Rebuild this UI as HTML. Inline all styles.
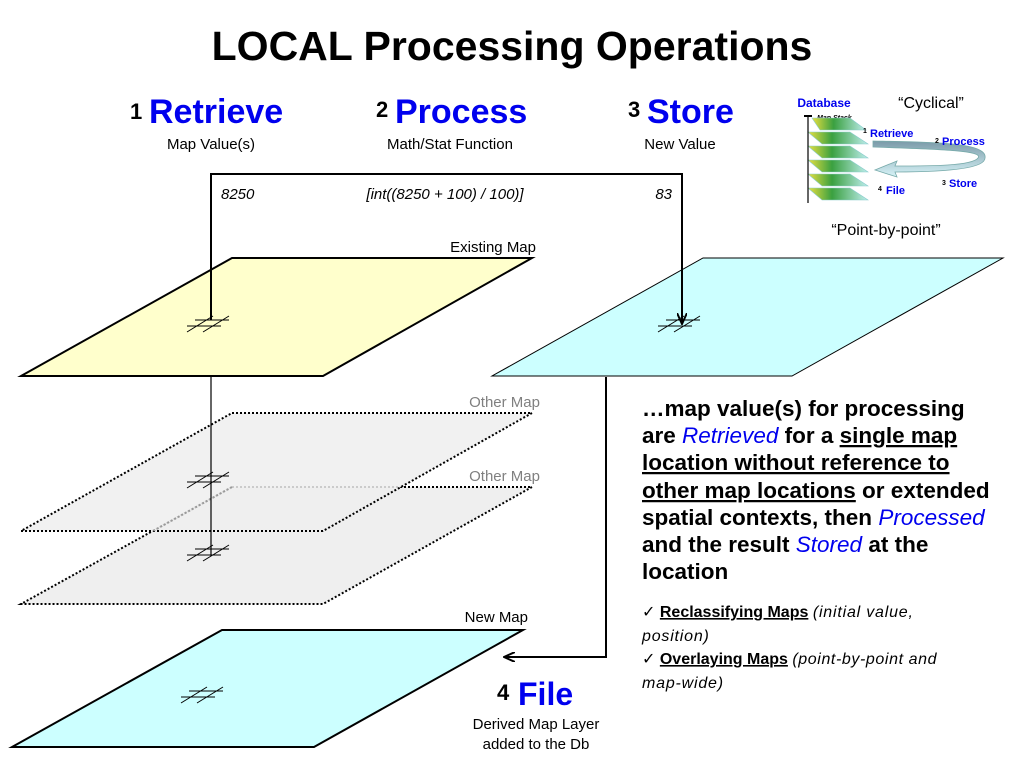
<!DOCTYPE html>
<html><head><meta charset="utf-8"><style>
html,body{margin:0;padding:0;background:#fff}
svg{display:block}
text{font-family:"Liberation Sans",Arial,sans-serif}
</style></head><body>
<svg width="1024" height="768" viewBox="0 0 1024 768" xmlns="http://www.w3.org/2000/svg">
<defs>
<marker id="ah" markerWidth="12" markerHeight="10" refX="11" refY="5" orient="auto" markerUnits="userSpaceOnUse">
<path d="M0,0 L11,5 L0,10" fill="none" stroke="#000" stroke-width="2"/></marker>
<linearGradient id="gm" x1="0" x2="1"><stop offset="0" stop-color="#e8e040"/><stop offset="0.4" stop-color="#3aa040"/><stop offset="1" stop-color="#bfeeee"/></linearGradient>
<linearGradient id="ar" x1="0" x2="0" y1="0" y2="1"><stop offset="0" stop-color="#7a9aa8"/><stop offset="1" stop-color="#d8f4f8"/></linearGradient>
</defs>
<text x="512" y="60" text-anchor="middle" font-size="41" font-weight="bold">LOCAL Processing Operations</text>

<text x="130" y="119" font-size="22" font-weight="bold">1</text>
<text x="149" y="123" font-size="34" font-weight="bold" fill="#0000ee">Retrieve</text>
<text x="211" y="149" text-anchor="middle" font-size="15">Map Value(s)</text>
<text x="376" y="117" font-size="22" font-weight="bold">2</text>
<text x="395" y="123" font-size="34" font-weight="bold" fill="#0000ee">Process</text>
<text x="450" y="149" text-anchor="middle" font-size="15">Math/Stat Function</text>
<text x="628" y="117" font-size="22" font-weight="bold">3</text>
<text x="647" y="123" font-size="34" font-weight="bold" fill="#0000ee">Store</text>
<text x="680" y="149" text-anchor="middle" font-size="15">New Value</text>

<text x="221" y="199" font-size="15" font-style="italic">8250</text>
<text x="445" y="199" text-anchor="middle" font-size="15" font-style="italic">[int((8250 + 100) / 100)]</text>
<text x="672" y="199" text-anchor="end" font-size="15" font-style="italic">83</text>

<!-- other maps -->
<polygon points="232,487 532,487 323,604 21,604" fill="#efefef" stroke="#000" stroke-width="2" stroke-dasharray="2,2"/>
<polygon points="232,413 532,413 323,531 21,531" fill="#efefef" fill-opacity="0.85" stroke="#000" stroke-width="2" stroke-dasharray="2,2"/>
<line x1="232" y1="487" x2="153" y2="531" stroke="#999" stroke-width="2" stroke-dasharray="2,2"/>
<text x="540" y="407" text-anchor="end" font-size="15" fill="#808080">Other Map</text>
<text x="540" y="481" text-anchor="end" font-size="15" fill="#808080">Other Map</text>

<!-- existing map -->
<polygon points="232,258 532,258 323,376 21,376" fill="#ffffcc" stroke="#000" stroke-width="2"/>
<text x="536" y="252" text-anchor="end" font-size="15">Existing Map</text>

<!-- store map -->
<polygon points="703,258 1003,258 792,376 492,376" fill="#ccffff" stroke="#000" stroke-width="1"/>

<!-- new map -->
<polygon points="222,630 523,630 314,747 12,747" fill="#ccffff" stroke="#000" stroke-width="2"/>
<text x="528" y="622" text-anchor="end" font-size="15">New Map</text>

<!-- connectors on top -->
<line x1="211" y1="376" x2="211" y2="556" stroke="#000" stroke-width="1.2"/>
<polyline points="211,320 211,174 682,174 682,324" fill="none" stroke="#000" stroke-width="2" marker-end="url(#ah)"/>

<!-- hatches -->
<g stroke="#000" stroke-width="1" fill="none">
<g transform="translate(207,322)"><line x1="-12" y1="-2" x2="22" y2="-2"/><line x1="-20" y1="4" x2="14" y2="4"/><line x1="-20" y1="10" x2="6" y2="-6"/><line x1="-4" y1="10" x2="22" y2="-6"/></g>
<g transform="translate(207,478)"><line x1="-12" y1="-2" x2="22" y2="-2"/><line x1="-20" y1="4" x2="14" y2="4"/><line x1="-20" y1="10" x2="6" y2="-6"/><line x1="-4" y1="10" x2="22" y2="-6"/></g>
<g transform="translate(207,551)"><line x1="-12" y1="-2" x2="22" y2="-2"/><line x1="-20" y1="4" x2="14" y2="4"/><line x1="-20" y1="10" x2="6" y2="-6"/><line x1="-4" y1="10" x2="22" y2="-6"/></g>
<g transform="translate(678,322)"><line x1="-12" y1="-2" x2="22" y2="-2"/><line x1="-20" y1="4" x2="14" y2="4"/><line x1="-20" y1="10" x2="6" y2="-6"/><line x1="-4" y1="10" x2="22" y2="-6"/></g>
<g transform="translate(201,693)"><line x1="-12" y1="-2" x2="22" y2="-2"/><line x1="-20" y1="4" x2="14" y2="4"/><line x1="-20" y1="10" x2="6" y2="-6"/><line x1="-4" y1="10" x2="22" y2="-6"/></g>
</g>

<!-- file connector -->
<polyline points="606,377 606,657 504,657" fill="none" stroke="#000" stroke-width="2" marker-end="url(#ah)"/>
<text x="497" y="700" font-size="22" font-weight="bold">4</text>
<text x="518" y="705" font-size="32" font-weight="bold" fill="#0000ee">File</text>
<text x="536" y="729" text-anchor="middle" font-size="15">Derived Map Layer</text>
<text x="536" y="749" text-anchor="middle" font-size="15">added to the Db</text>

<!-- paragraph -->
<g font-size="22.5" font-weight="bold">
<text x="642" y="416">…map value(s) for processing</text>
<text x="642" y="443">are <tspan fill="#0000ee" font-style="italic" font-weight="normal">Retrieved</tspan> for a <tspan text-decoration="underline">single map</tspan></text>
<text x="642" y="470" text-decoration="underline">location without reference to</text>
<text x="642" y="498"><tspan text-decoration="underline">other map locations</tspan> or extended</text>
<text x="642" y="525">spatial contexts, then <tspan fill="#0000ee" font-style="italic" font-weight="normal">Processed</tspan></text>
<text x="642" y="552">and the result <tspan fill="#0000ee" font-style="italic" font-weight="normal">Stored</tspan> at the</text>
<text x="642" y="579">location</text>
</g>
<g font-size="16">
<text x="642" y="617">✓ <tspan font-weight="bold" text-decoration="underline">Reclassifying Maps</tspan> <tspan font-style="italic" letter-spacing="0.8">(initial value,</tspan></text>
<text x="642" y="641" font-style="italic" letter-spacing="0.8">position)</text>
<text x="642" y="664">✓ <tspan font-weight="bold" text-decoration="underline">Overlaying Maps</tspan> <tspan font-style="italic" letter-spacing="0.6">(point-by-point and</tspan></text>
<text x="642" y="688" font-style="italic" letter-spacing="0.8">map-wide)</text>
</g>

<!-- inset -->
<text x="824" y="107" text-anchor="middle" font-size="12" font-weight="bold" fill="#0000ee">Database</text>
<text x="817" y="120" font-size="7" font-weight="bold" font-style="italic">Map Stack</text>
<g stroke="#8cc" stroke-width="0.6">
<polygon points="808,188 850,188 868,200 822,200" fill="url(#gm)"/>
<polygon points="808,174 850,174 868,186 822,186" fill="url(#gm)"/>
<polygon points="808,160 850,160 868,172 822,172" fill="url(#gm)"/>
<polygon points="808,146 850,146 868,158 822,158" fill="url(#gm)"/>
<polygon points="808,132 850,132 868,144 822,144" fill="url(#gm)"/>
<polygon points="812,118 850,118 866,130 820,130" fill="url(#gm)"/>
</g>
<line x1="808" y1="116" x2="808" y2="203" stroke="#000" stroke-width="1.2"/>
<line x1="804" y1="116" x2="812" y2="116" stroke="#000" stroke-width="2"/>
<path d="M873,147 C930,149 985,150 978,158 C972,166 930,166 895,166 L897,161 L875,170 L897,177 L895,172 C935,172 985,170 985,158 C988,142 930,142 873,141 Z" fill="url(#ar)" stroke="#7aa" stroke-width="0.8"/>
<text x="863" y="133" font-size="7" font-weight="bold">1</text>
<text x="870" y="137" font-size="11" font-weight="bold" fill="#0000ee">Retrieve</text>
<text x="935" y="143" font-size="7" font-weight="bold">2</text>
<text x="942" y="145" font-size="11" font-weight="bold" fill="#0000ee">Process</text>
<text x="942" y="185" font-size="7" font-weight="bold">3</text>
<text x="949" y="187" font-size="11" font-weight="bold" fill="#0000ee">Store</text>
<text x="878" y="191" font-size="7" font-weight="bold">4</text>
<text x="886" y="194" font-size="11" font-weight="bold" fill="#0000ee">File</text>
<text x="931" y="108" text-anchor="middle" font-size="16">“Cyclical”</text>
<text x="886" y="235" text-anchor="middle" font-size="16">“Point-by-point”</text>
</svg>
</body></html>
